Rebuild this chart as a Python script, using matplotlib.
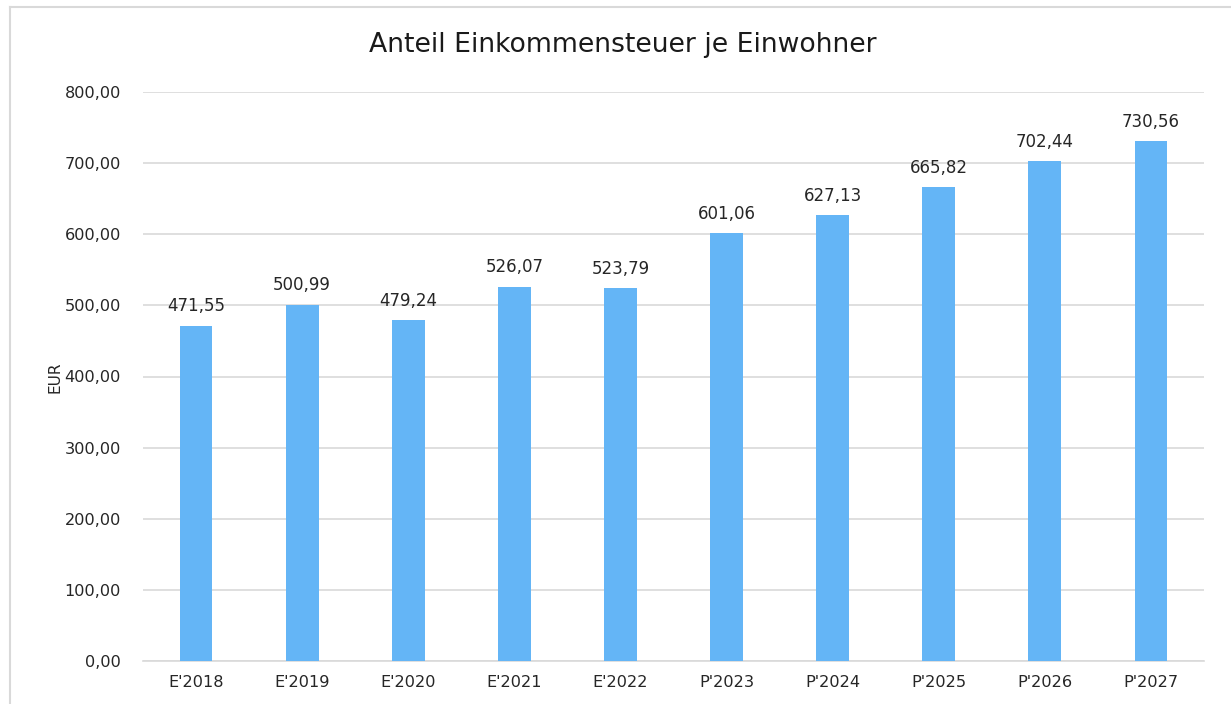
import matplotlib
matplotlib.use("Agg")
import matplotlib.pyplot as plt
from matplotlib.lines import Line2D

categories = ["E'2018", "E'2019", "E'2020", "E'2021", "E'2022",
              "P'2023", "P'2024", "P'2025", "P'2026", "P'2027"]
values = [471.55, 500.99, 479.24, 526.07, 523.79,
          601.06, 627.13, 665.82, 702.44, 730.56]
yticks = [0, 100, 200, 300, 400, 500, 600, 700, 800]

W, H = 1231, 704
plt.rcParams['font.family'] = 'sans-serif'
plt.rcParams['font.sans-serif'] = ['DejaVu Sans']
FONT = 'DejaVu Sans'
fig = plt.figure(figsize=(W / 100, H / 100), dpi=100)
ax = fig.add_axes([143 / W, 43 / H, (1204 - 143) / W, (661 - 92) / H])

def fmt(v):
    return f"{v:,.2f}".replace(",", "X").replace(".", ",").replace("X", ".")

x = range(len(categories))
ax.bar(x, values, width=0.31, color="#64B5F6", zorder=3)
for xi, v in zip(x, values):
    ax.annotate(fmt(v), (xi, v), xytext=(0, 7.5), textcoords="offset points",
                ha="center", va="bottom", fontsize=12, color="#262626",
                family=FONT)

ax.set_xlim(-0.5, len(categories) - 0.5)
ax.set_ylim(0, 800)
ax.set_yticks(yticks)
ax.set_yticklabels([fmt(t) for t in yticks], family=FONT)
ax.set_xticks(list(x))
ax.set_xticklabels(categories, family=FONT)
ax.tick_params(axis="both", length=0, labelsize=11.6, labelcolor="#262626")
ax.tick_params(axis="y", pad=16)
ax.tick_params(axis="x", pad=10)
ax.grid(axis="y", color="#D9D9D9", linewidth=1.2, zorder=0)
for s in ["top", "right", "left"]:
    ax.spines[s].set_visible(False)
ax.spines["bottom"].set_color("#D9D9D9")
ax.spines["bottom"].set_linewidth(1.2)

fig.text(55 / W, 1 - 377 / H, "EUR", rotation=90, ha="center", va="center",
         fontsize=11, color="#262626", family=FONT)
fig.text(623 / W, 1 - 45 / H, "Anteil Einkommensteuer je Einwohner",
         ha="center", va="center", fontsize=19.2, color="#1a1a1a", family=FONT)

# chart frame (partially visible)
fig.add_artist(Line2D([10 / W, 10 / W], [0, 1 - 7 / H], color="#D9D9D9", lw=1.5))
fig.add_artist(Line2D([10 / W, 1], [1 - 7 / H, 1 - 7 / H], color="#D9D9D9", lw=1.5))

fig.savefig("out.png", dpi=100)
